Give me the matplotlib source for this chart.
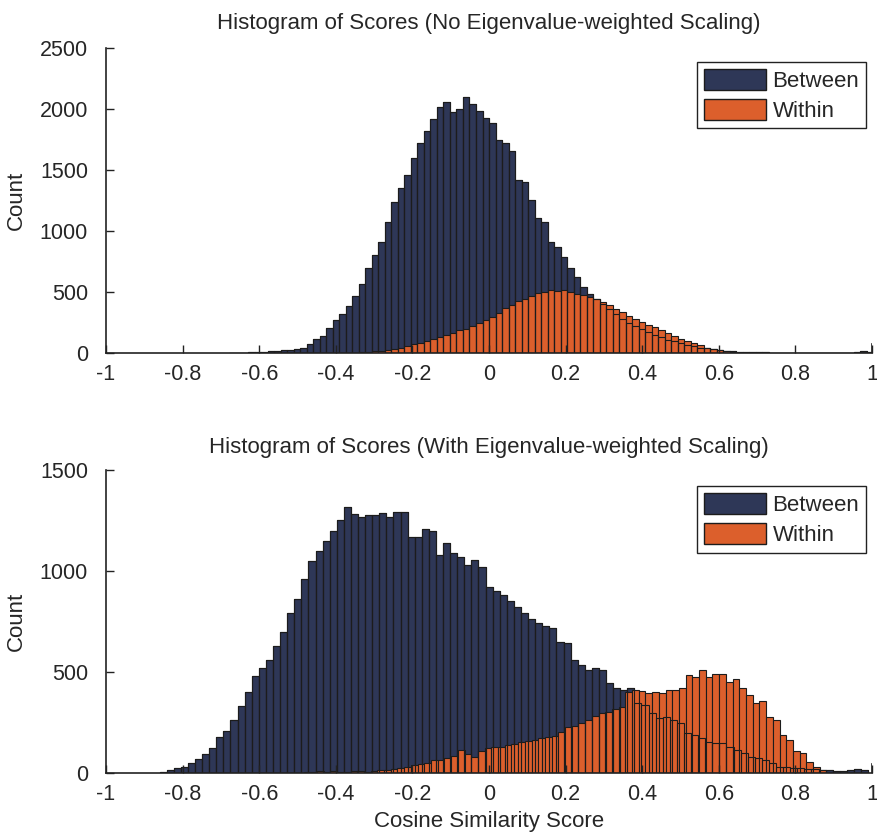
import numpy as np
import matplotlib
matplotlib.use("Agg")
import matplotlib.pyplot as plt
from matplotlib.patches import Patch

plt.rcParams["font.family"] = ["Liberation Sans", "DejaVu Sans"]

# %%
# Histogram counts.

# top panel (no eigenvalue-weighted scaling), bins of width 0.017
top_between_start = -0.68
top_between = [
    2, 3, 4, 6, 8, 10, 13, 17, 22, 28,
    36, 44, 72, 113, 140, 209, 272, 321, 388, 470,
    569, 693, 800, 910, 1075, 1240, 1353, 1460, 1600, 1724,
    1818, 1920, 2013, 2054, 1972, 1997, 2096, 2038, 1983, 1930,
    1889, 1749, 1724, 1652, 1419, 1405, 1254, 1105, 1075, 910,
    869, 786, 693, 621, 539, 487, 445, 404, 360, 320,
    280, 250, 220, 195, 170, 150, 130, 110, 95, 80,
    68, 55, 45, 38, 30, 24, 18, 14, 10, 8,
    6, 5, 5, 4, 4, 3, 4, 3, 3, 4,
    3, 3, 2, 3, 3, 4, 8, 14, 10,
]
top_within_start = -0.34
top_within = [
    8, 12, 15, 20, 28, 35, 45, 58, 70, 85,
    100, 115, 130, 145, 165, 185, 200, 220, 245, 270,
    295, 330, 365, 395, 425, 445, 470, 490, 500, 520,
    510, 515, 500, 485, 478, 460, 445, 415, 390, 362,
    335, 305, 280, 255, 230, 210, 185, 160, 140, 118,
    100, 80, 62, 45, 32, 22, 14, 8, 4,
]

# bottom panel (with eigenvalue-weighted scaling)
bot_between_start = -0.86
bot_between = [
    6, 14, 23, 31, 48, 70, 92, 125, 180, 210,
    260, 330, 400, 480, 520, 560, 630, 700, 790, 860,
    960, 1050, 1100, 1150, 1200, 1250, 1318, 1280, 1268, 1277,
    1277, 1285, 1268, 1294, 1294, 1170, 1170, 1206, 1198, 1080,
    1137, 1088, 1071, 1030, 1054, 1021, 922, 900, 880, 850,
    820, 790, 760, 745, 730, 716, 650, 645, 560, 535,
    510, 518, 510, 444, 419, 411, 422, 345, 337, 296,
    271, 279, 262, 246, 196, 188, 172, 155, 147, 147,
    130, 114, 97, 81, 73, 64, 48, 31, 31, 23,
    23, 19, 18, 17, 15, 12, 12, 16, 19, 15,
]
bot_within_start = -0.484
bot_within = [
    4, 6, 8, 6, 9, 7, 5, 8, 9, 7,
    11, 14, 17, 22, 26, 30, 38, 44, 52, 62,
    66, 74, 85, 112, 96, 80, 108, 125, 130, 128,
    140, 146, 152, 158, 165, 172, 176, 182, 205, 229,
    235, 246, 262, 282, 295, 304, 315, 328, 400, 411,
    408, 394, 403, 394, 411, 411, 419, 485, 477, 510,
    477, 488, 488, 452, 464, 419, 386, 345, 358, 279,
    262, 188, 163, 110, 101, 56, 31, 15,
]

navy = "#2e3757"
orange = "#dc5f2c"
edge = "#1c1c1c"
text_col = "#262626"


def draw_panel(ax, b_start, b_counts, b_w, w_start, w_counts, w_w, ymax,
               title, title_pad, leg_top):
    bx = b_start + b_w * (np.arange(len(b_counts)) + 0.5)
    wx = w_start + w_w * (np.arange(len(w_counts)) + 0.5)
    ax.bar(bx, b_counts, width=b_w, color=navy, edgecolor=edge, linewidth=0.8)
    ax.bar(wx, w_counts, width=w_w, color=orange, edgecolor=edge, linewidth=0.8)
    # outline of the Between bars stays visible over the Within bars
    ax.bar(bx, b_counts, width=b_w, facecolor="none", edgecolor=edge, linewidth=0.8)
    ax.set_xlim(-1, 1)
    ax.set_ylim(0, ymax)
    ax.set_xticks(np.linspace(-1, 1, 11))
    ax.set_xticklabels(["-1", "-0.8", "-0.6", "-0.4", "-0.2", "0",
                        "0.2", "0.4", "0.6", "0.8", "1"])
    ax.set_yticks(np.arange(0, ymax + 1, 500))
    ax.tick_params(direction="in", length=6, width=1, labelsize=15.5,
                   labelcolor=text_col, color="#222222")
    ax.tick_params(axis="y", pad=13)
    ax.tick_params(axis="x", pad=8)
    ax.spines["top"].set_visible(False)
    ax.spines["right"].set_visible(False)
    for s in ("left", "bottom"):
        ax.spines[s].set_linewidth(1.2)
        ax.spines[s].set_color("#222222")
    ax.axvline(1, ymin=0, ymax=0.03, color="#222222", lw=1.2)
    ax.set_ylabel("Count", fontsize=16, labelpad=9, color=text_col)
    ax.set_title(title, fontsize=16, pad=title_pad, color=text_col)
    handles = [Patch(facecolor=navy, edgecolor=edge, label="Between"),
               Patch(facecolor=orange, edgecolor=edge, label="Within")]
    leg = ax.legend(handles=handles, loc="upper right",
                    bbox_to_anchor=(0.992, leg_top), fontsize=16,
                    fancybox=False, framealpha=1, edgecolor="#222222",
                    handlelength=2.8, handleheight=1.1, borderaxespad=0,
                    labelspacing=0.3, handletextpad=0.3, borderpad=0.3)
    for t in leg.get_texts():
        t.set_color(text_col)
    leg.get_frame().set_linewidth(1.0)


fig = plt.figure(figsize=(8.77, 8.32), dpi=100)
ax1 = fig.add_axes([0.1209, 0.5757, 0.8734, 0.3666])
ax2 = fig.add_axes([0.1209, 0.0709, 0.8734, 0.3642])

draw_panel(ax1, top_between_start, top_between, 0.017,
           top_within_start, top_within, 0.017, 2500,
           "Histogram of Scores (No Eigenvalue-weighted Scaling)", 13.5, 0.954)
draw_panel(ax2, bot_between_start, bot_between, 0.0185,
           bot_within_start, bot_within, 0.0175, 1500,
           "Histogram of Scores (With Eigenvalue-weighted Scaling)", 12, 0.947)
ax2.set_xlabel("Cosine Similarity Score", fontsize=16, labelpad=4,
               color=text_col)

fig.savefig("out.png", dpi=100)
